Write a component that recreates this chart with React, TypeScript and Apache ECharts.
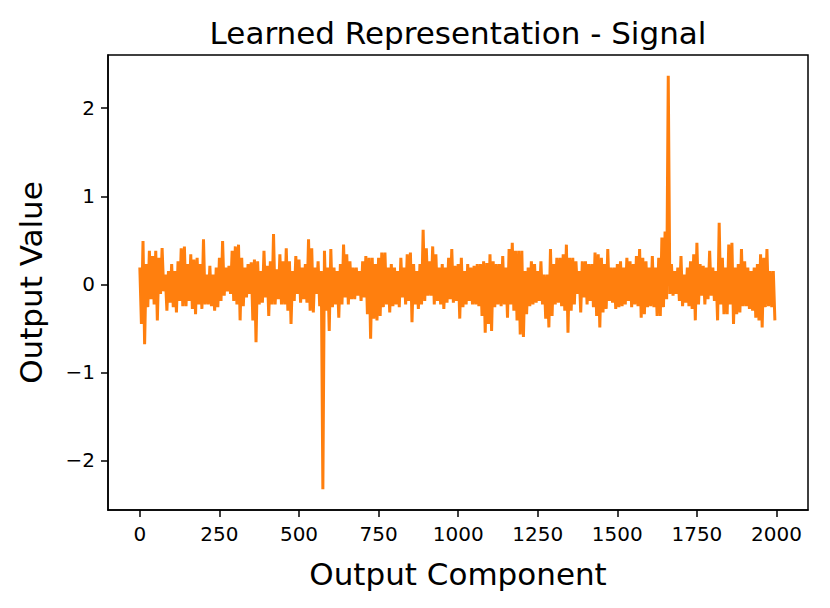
import React, { useEffect, useRef } from "react";
import * as echarts from "echarts";

// Upper envelope of the signal, one value per bin of 10 components
const hi = [
  0.19, 0.49, 0.23, 0.38, 0.32, 0.38, 0.30, 0.41, 0.11, 0.15,
  0.23, 0.15, 0.26, 0.41, 0.43, 0.23, 0.34, 0.28, 0.30, 0.23,
  0.51, 0.11, 0.21, 0.11, 0.19, 0.30, 0.49, 0.19, 0.21, 0.38,
  0.43, 0.45, 0.30, 0.19, 0.23, 0.25, 0.28, 0.26, 0.15, 0.38,
  0.21, 0.26, 0.57, 0.17, 0.34, 0.26, 0.41, 0.26, 0.15, 0.32,
  0.28, 0.19, 0.23, 0.51, 0.41, 0.19, 0.26, 0.15, 0.38, 0.19,
  0.40, 0.19, 0.15, 0.23, 0.45, 0.34, 0.26, 0.19, 0.19, 0.15,
  0.26, 0.32, 0.30, 0.30, 0.23, 0.30, 0.36, 0.36, 0.19, 0.23,
  0.19, 0.15, 0.30, 0.19, 0.34, 0.36, 0.23, 0.15, 0.23, 0.62,
  0.41, 0.26, 0.43, 0.34, 0.19, 0.23, 0.19, 0.30, 0.40, 0.21,
  0.23, 0.30, 0.15, 0.23, 0.19, 0.21, 0.23, 0.23, 0.26, 0.24,
  0.34, 0.26, 0.23, 0.23, 0.32, 0.19, 0.40, 0.47, 0.38, 0.38,
  0.38, 0.15, 0.19, 0.26, 0.23, 0.15, 0.26, 0.11, 0.11, 0.40,
  0.23, 0.30, 0.30, 0.34, 0.45, 0.30, 0.30, 0.26, 0.15, 0.26,
  0.26, 0.23, 0.23, 0.36, 0.34, 0.30, 0.23, 0.40, 0.19, 0.19,
  0.23, 0.26, 0.19, 0.30, 0.26, 0.23, 0.32, 0.40, 0.30, 0.26,
  0.19, 0.32, 0.19, 0.30, 0.53, 0.60, 2.37, 0.23, 0.15, 0.19,
  0.32, 0.11, 0.19, 0.26, 0.34, 0.47, 0.23, 0.21, 0.19, 0.38,
  0.19, 0.15, 0.70, 0.30, 0.19, 0.45, 0.47, 0.19, 0.23, 0.40,
  0.26, 0.19, 0.15, 0.19, 0.23, 0.34, 0.30, 0.40, 0.15, 0.15,
];

// Lower envelope of the signal, same bins
const lo = [
  -0.45, -0.68, -0.26, -0.17, -0.23, -0.41, -0.11, -0.08, -0.30, -0.21,
  -0.26, -0.32, -0.19, -0.25, -0.25, -0.19, -0.28, -0.34, -0.23, -0.28,
  -0.23, -0.23, -0.25, -0.30, -0.26, -0.19, -0.13, -0.08, -0.11, -0.19,
  -0.23, -0.41, -0.25, -0.15, -0.11, -0.41, -0.66, -0.23, -0.21, -0.15,
  -0.36, -0.23, -0.23, -0.17, -0.23, -0.23, -0.30, -0.45, -0.19, -0.11,
  -0.21, -0.17, -0.21, -0.30, -0.32, -0.11, -0.25, -2.33, -0.30, -0.53,
  -0.26, -0.23, -0.38, -0.23, -0.15, -0.23, -0.17, -0.17, -0.13, -0.19,
  -0.15, -0.34, -0.62, -0.39, -0.41, -0.36, -0.26, -0.23, -0.32, -0.25,
  -0.23, -0.26, -0.15, -0.23, -0.19, -0.43, -0.23, -0.28, -0.23, -0.19,
  -0.13, -0.13, -0.23, -0.19, -0.23, -0.28, -0.21, -0.17, -0.21, -0.19,
  -0.39, -0.26, -0.23, -0.19, -0.23, -0.23, -0.25, -0.36, -0.55, -0.45,
  -0.53, -0.26, -0.23, -0.25, -0.23, -0.38, -0.23, -0.30, -0.41, -0.57,
  -0.60, -0.34, -0.25, -0.23, -0.21, -0.19, -0.23, -0.39, -0.49, -0.36,
  -0.23, -0.21, -0.25, -0.30, -0.55, -0.30, -0.23, -0.11, -0.32, -0.15,
  -0.23, -0.19, -0.26, -0.36, -0.49, -0.32, -0.28, -0.19, -0.21, -0.28,
  -0.26, -0.25, -0.23, -0.19, -0.26, -0.23, -0.25, -0.38, -0.34, -0.26,
  -0.25, -0.26, -0.36, -0.36, -0.26, -0.17, -0.11, -0.13, -0.11, -0.19,
  -0.25, -0.21, -0.25, -0.28, -0.41, -0.23, -0.13, -0.23, -0.17, -0.13,
  -0.19, -0.41, -0.23, -0.34, -0.34, -0.23, -0.45, -0.34, -0.32, -0.25,
  -0.25, -0.28, -0.30, -0.38, -0.41, -0.49, -0.26, -0.25, -0.26, -0.41,
];

const binWidth = 10;
const xTicks = [0, 250, 500, 750, 1000, 1250, 1500, 1750, 2000];
const yTicks = [-2, -1, 0, 1, 2];

const FONT = "DejaVu Sans";

export default function App() {
  const ref = useRef<HTMLDivElement>(null);
  useEffect(() => {
    if (!ref.current) return;
    const chart = echarts.init(ref.current, undefined, { renderer: "svg" });
    const points: [number, number][] = [];
    for (let k = 0; k < hi.length; k++) {
      points.push([k * binWidth, hi[k]]);
      points.push([k * binWidth + binWidth / 2, lo[k]]);
    }
    chart.setOption({
      animation: false,
      backgroundColor: "#ffffff",
      title: {
        text: "Learned Representation - Signal",
        left: 453,
        top: 12,
        textAlign: "center",
        textStyle: { fontFamily: FONT, fontSize: 31, fontWeight: "normal", color: "#000" },
      },
      grid: {
        left: 108,
        top: 55,
        width: 700,
        height: 455,
        show: true,
        borderColor: "#000",
        borderWidth: 1.5,
        backgroundColor: "transparent",
      },
      xAxis: {
        type: "value",
        min: -100,
        max: 2099,
        name: "Output Component",
        nameLocation: "middle",
        nameGap: 48,
        nameTextStyle: { fontFamily: FONT, fontSize: 31, color: "#000" },
        splitLine: { show: false },
        axisLine: { show: true, onZero: false, lineStyle: { color: "#000", width: 1.5 } },
        axisTick: { show: true, length: 7, customValues: xTicks, lineStyle: { color: "#000", width: 1.5 } },
        axisLabel: {
          customValues: xTicks,
          margin: 14,
          fontFamily: FONT,
          fontSize: 20,
          color: "#000",
          formatter: (v: number) => String(v),
        },
      },
      yAxis: {
        type: "value",
        min: -2.565,
        max: 2.605,
        name: "Output Value",
        nameLocation: "middle",
        nameRotate: 90,
        nameGap: 62,
        nameTextStyle: { fontFamily: FONT, fontSize: 31, color: "#000" },
        splitLine: { show: false },
        axisLine: { show: true, onZero: false, lineStyle: { color: "#000", width: 1.5 } },
        axisTick: { show: true, length: 7, customValues: yTicks, lineStyle: { color: "#000", width: 1.5 } },
        axisLabel: {
          customValues: yTicks,
          margin: 13,
          fontFamily: FONT,
          fontSize: 20,
          color: "#000",
          formatter: (v: number) => (v < 0 ? "\u2212" + Math.abs(v) : String(v)),
        },
      },
      series: [
        {
          type: "line",
          data: points,
          showSymbol: false,
          symbol: "none",
          lineStyle: { color: "#ff7f0e", width: 3 },
          emphasis: { disabled: true },
        },
      ],
    });
    return () => chart.dispose();
  }, []);
  return <div ref={ref} style={{ width: 830, height: 608, margin: -8 }} />;
}
